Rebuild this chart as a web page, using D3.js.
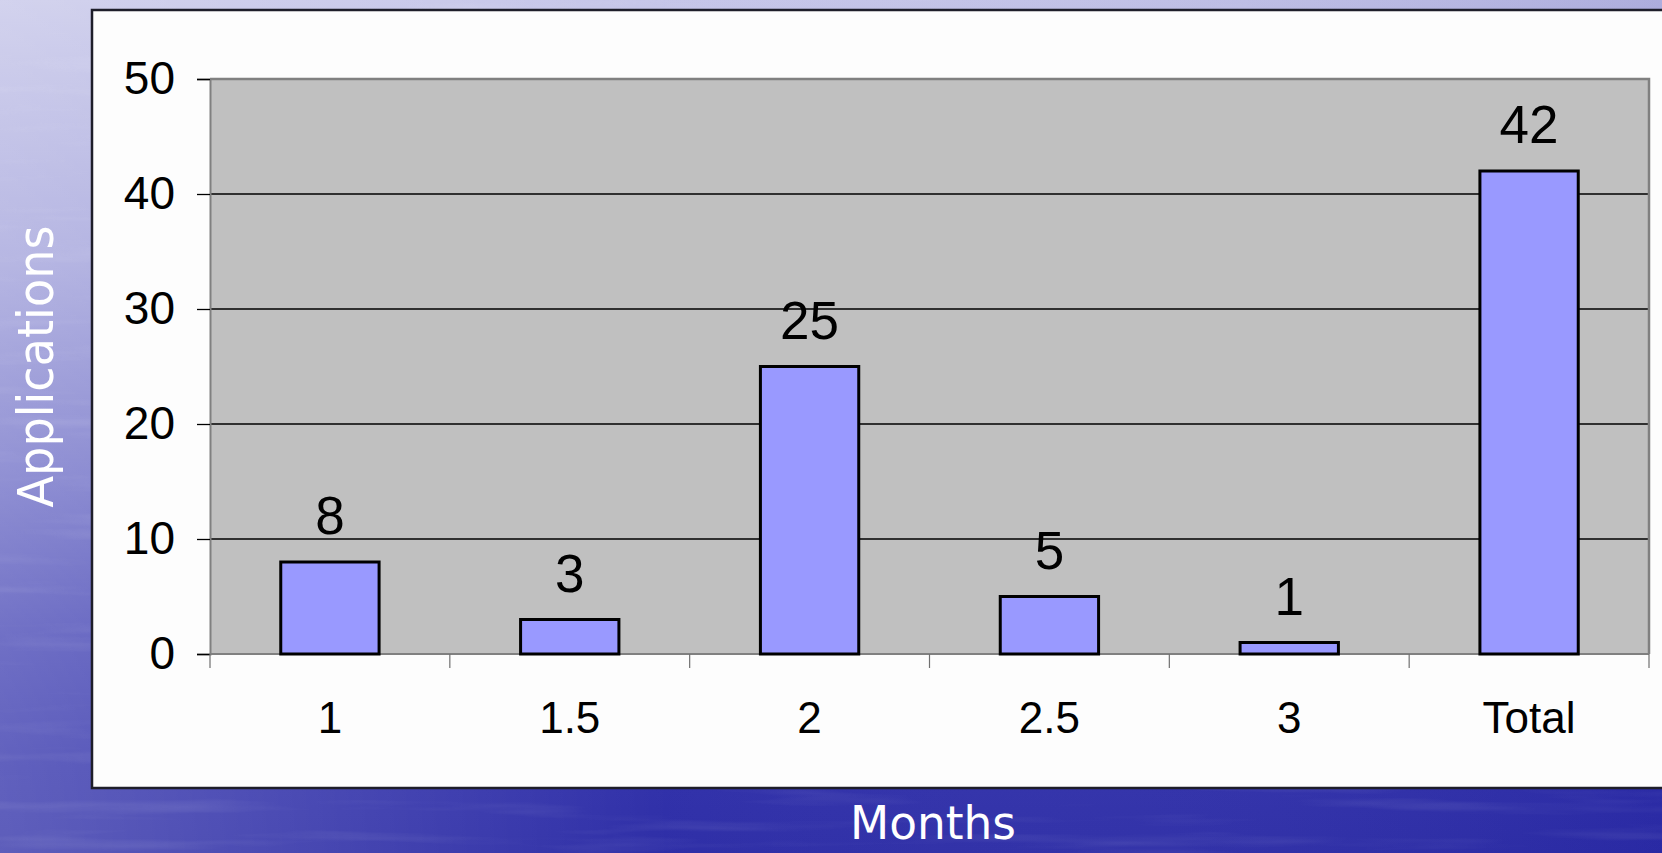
<!DOCTYPE html>
<html>
<head>
<meta charset="utf-8">
<script src="https://cdn.jsdelivr.net/npm/d3@7"></script>
<style>
  html, body { margin: 0; padding: 0; background: #2a2aa6; }
  svg { display: block; }
</style>
</head>
<body>
<svg id="chart" width="1662" height="853"></svg>
<script>
// data
const months = ['1', '1.5', '2', '2.5', '3', 'Total']
const applications = [8, 3, 25, 5, 1, 42]
const yTicks = [0, 10, 20, 30, 40, 50]

const W = 1662, H = 853
const plot = { left: 210, right: 1649, top: 79, bottom: 654 }

const svg = d3.select('#chart')
const defs = svg.append('defs')

// background: blue "water" slide
const bg = defs.append('linearGradient').attr('id', 'bgV').attr('x1', 0).attr('y1', 0).attr('x2', 0).attr('y2', 1)
bg.selectAll('stop')
    .data([[0, '#c4c4e8'], [0.3, '#a0a0da'], [0.55, '#6e6ec6'], [0.75, '#4040b2'], [0.9, '#2c2ca8'], [1, '#2828a4']])
    .join('stop').attr('offset', d => d[0]).attr('stop-color', d => d[1])
const bgH = defs.append('linearGradient').attr('id', 'bgH').attr('x1', 0).attr('y1', 0).attr('x2', 1).attr('y2', 0)
bgH.selectAll('stop')
    .data([[0, '#ffffff', 0.25], [0.4, '#ffffff', 0.03], [1, '#3030a0', 0.15]])
    .join('stop').attr('offset', d => d[0]).attr('stop-color', d => d[1]).attr('stop-opacity', d => d[2])
const water = defs.append('filter').attr('id', 'water').attr('x', 0).attr('y', 0).attr('width', 1).attr('height', 1)
water.append('feTurbulence').attr('type', 'fractalNoise').attr('baseFrequency', '0.004 0.06').attr('numOctaves', 3).attr('seed', 4)
water.append('feColorMatrix').attr('type', 'matrix')
    .attr('values', '0 0 0 0 1  0 0 0 0 1  0 0 0 0 1  0 0 0 1.1 -0.6')

svg.append('rect').attr('width', W).attr('height', H).attr('fill', 'url(#bgV)')
svg.append('rect').attr('width', W).attr('height', H).attr('fill', 'url(#bgH)')
svg.append('rect').attr('width', W).attr('height', H).attr('filter', 'url(#water)').attr('opacity', 0.22)

// white chart panel
svg.append('rect')
    .attr('x', 92).attr('y', 10).attr('width', W - 92 + 4).attr('height', 778)
    .attr('fill', '#fdfdfd').attr('stroke', '#1e1e2a').attr('stroke-width', 2.5)

const x = d3.scaleBand().domain(months).range([plot.left, plot.right]).paddingInner(0.59).paddingOuter(0.295)
const xb = d3.scaleBand().domain(months).range([plot.left, plot.right])
const y = d3.scaleLinear().domain([0, 50]).range([plot.bottom, plot.top])

// plot area
svg.append('rect')
    .attr('x', plot.left).attr('y', plot.top)
    .attr('width', plot.right - plot.left).attr('height', plot.bottom - plot.top)
    .attr('fill', '#c0c0c0')

// gridlines
svg.append('g')
    .selectAll('line')
    .data(yTicks.filter(d => d > 0 && d < 50))
    .join('line')
    .attr('x1', plot.left).attr('x2', plot.right)
    .attr('y1', d => y(d)).attr('y2', d => y(d))
    .attr('stroke', '#000').attr('stroke-width', 1.3)

// plot border top / right
svg.append('path')
    .attr('d', `M${plot.left},${plot.top}H${plot.right}V${plot.bottom}`)
    .attr('fill', 'none').attr('stroke', '#808080').attr('stroke-width', 2.5)

// y axis
const yAxis = svg.append('g')
    .attr('transform', `translate(${plot.left},0)`)
    .call(d3.axisLeft(y).tickValues(yTicks).tickSize(13).tickPadding(22))
yAxis.select('.domain').attr('stroke', '#808080').attr('stroke-width', 2)
yAxis.selectAll('.tick line').attr('stroke', '#000').attr('stroke-width', 1.3)
yAxis.selectAll('.tick text')
    .attr('font-family', 'Liberation Sans, Arial, sans-serif').attr('font-size', 46).attr('fill', '#000')

// x axis line + category boundary ticks
svg.append('line')
    .attr('x1', plot.left).attr('x2', plot.right)
    .attr('y1', plot.bottom).attr('y2', plot.bottom)
    .attr('stroke', '#808080').attr('stroke-width', 2)
svg.append('g')
    .selectAll('line')
    .data(months.map(d => xb(d)).concat([xb.range()[1]]))
    .join('line')
    .attr('x1', d => d).attr('x2', d => d)
    .attr('y1', plot.bottom).attr('y2', plot.bottom + 14)
    .attr('stroke', '#707070').attr('stroke-width', 1.2)

// x tick labels
const xAxis = svg.append('g')
    .attr('transform', `translate(0,${plot.bottom})`)
    .call(d3.axisBottom(xb).tickSize(0).tickPadding(48))
xAxis.select('.domain').remove()
xAxis.selectAll('.tick text')
    .attr('font-family', 'Liberation Sans, Arial, sans-serif').attr('font-size', 44).attr('fill', '#000')

// bars
svg.append('g')
    .selectAll('rect')
    .data(applications)
    .join('rect')
    .attr('x', (d, i) => x(months[i]))
    .attr('y', d => y(d))
    .attr('width', x.bandwidth())
    .attr('height', d => y(0) - y(d))
    .attr('fill', '#9999ff')
    .attr('stroke', '#000').attr('stroke-width', 3)

// value labels
svg.append('g')
    .selectAll('text')
    .data(applications)
    .join('text')
    .attr('x', (d, i) => xb(months[i]) + xb.bandwidth() / 2)
    .attr('y', d => y(d) - 28)
    .attr('text-anchor', 'middle')
    .attr('font-family', 'Liberation Sans, Arial, sans-serif')
    .attr('font-size', 53)
    .attr('fill', '#000')
    .text(d => d)

// axis titles
svg.append('text')
    .attr('transform', `translate(53,${(plot.top + plot.bottom) / 2}) rotate(-90)`)
    .attr('text-anchor', 'middle')
    .attr('font-family', 'DejaVu Sans, Verdana, sans-serif')
    .attr('font-size', 50)
    .attr('textLength', 282).attr('lengthAdjust', 'spacingAndGlyphs')
    .attr('fill', '#fff')
    .text('Applications')

svg.append('text')
    .attr('x', 933).attr('y', 839)
    .attr('text-anchor', 'middle')
    .attr('font-family', 'DejaVu Sans, Verdana, sans-serif')
    .attr('font-size', 46)
    .attr('textLength', 166).attr('lengthAdjust', 'spacingAndGlyphs')
    .attr('fill', '#fff')
    .text('Months')
</script>
</body>
</html>
